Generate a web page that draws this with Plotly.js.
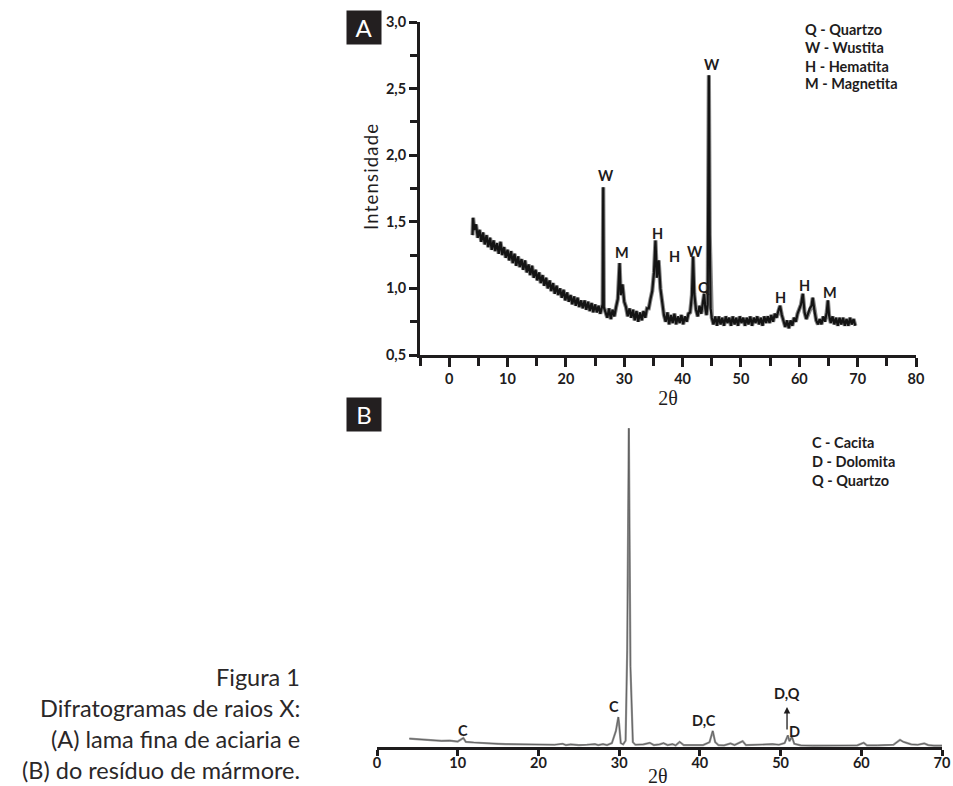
<!DOCTYPE html>
<html>
<head>
<meta charset="utf-8">
<script src="https://cdn.plot.ly/plotly-3.0.1.min.js"></script>
<style>html,body{margin:0;padding:0;background:#fff}#chart{width:953px;height:786px}</style>
</head>
<body>
<div id="chart"></div>
<script>
// ---------- Panel A: lama fina de aciaria ----------
const thetaA = [4.0,4.1,4.3,4.6,4.9,5.2,5.5,5.8,6.1,6.4,6.7,7.0,7.3,7.6,7.9,8.2,8.5,8.8,9.1,9.4,9.7,10.0,10.3,10.6,10.9,11.2,11.5,11.8,12.1,12.4,12.7,13.0,13.3,13.6,13.9,14.2,14.5,14.8,15.1,15.4,15.7,16.0,16.3,16.6,16.9,17.2,17.5,17.8,18.1,18.4,18.7,19.0,19.3,19.6,19.9,20.2,20.5,20.8,21.1,21.4,21.7,22.0,22.3,22.6,22.9,23.2,23.5,23.8,24.1,24.4,24.7,25.0,25.3,25.6,25.9,26.2,26.3,26.4,26.5,26.8,27.1,27.4,27.7,28.0,28.3,28.6,28.9,29.2,29.4,29.7,30.0,30.3,30.6,30.9,31.2,31.5,31.8,32.1,32.4,32.7,33.0,33.3,33.6,33.9,34.2,34.5,34.8,35.1,35.35,35.6,35.9,36.2,36.5,36.8,37.1,37.4,37.7,38.0,38.3,38.6,38.9,39.2,39.5,39.8,40.1,40.4,40.7,41.0,41.3,41.6,41.8,42.0,42.3,42.6,42.9,43.2,43.5,43.7,43.9,44.1,44.3,44.5,44.65,44.8,45.0,45.3,45.6,45.9,46.2,46.5,46.8,47.1,47.4,47.7,48.0,48.3,48.6,48.9,49.2,49.5,49.8,50.1,50.4,50.7,51.0,51.3,51.6,51.9,52.2,52.5,52.8,53.1,53.4,53.7,54.0,54.3,54.6,54.9,55.2,55.5,55.8,56.1,56.4,56.7,57.0,57.3,57.6,57.9,58.2,58.5,58.8,59.1,59.4,59.7,60.0,60.3,60.6,60.9,61.2,61.5,61.8,62.1,62.3,62.6,62.9,63.2,63.5,63.8,64.1,64.4,64.7,64.9,65.1,65.4,65.7,66.0,66.3,66.6,66.9,67.2,67.5,67.8,68.1,68.4,68.7,69.0,69.3,69.6];
const intensA = [1.40,1.53,1.44,1.48,1.38,1.44,1.35,1.42,1.33,1.40,1.31,1.38,1.29,1.36,1.28,1.34,1.26,1.35,1.25,1.31,1.23,1.29,1.21,1.28,1.19,1.26,1.17,1.24,1.16,1.22,1.14,1.21,1.12,1.18,1.10,1.17,1.08,1.14,1.06,1.12,1.04,1.10,1.02,1.08,1.00,1.06,0.98,1.04,0.96,1.02,0.95,1.00,0.93,0.99,0.91,0.97,0.90,0.95,0.88,0.94,0.87,0.93,0.86,0.91,0.85,0.91,0.84,0.90,0.83,0.89,0.82,0.88,0.82,0.87,0.81,0.87,0.88,1.76,0.86,0.82,0.78,0.85,0.77,0.84,0.79,0.86,0.92,1.19,0.95,1.03,0.90,0.86,0.79,0.85,0.78,0.84,0.76,0.83,0.75,0.82,0.76,0.83,0.78,0.85,0.85,0.92,0.98,1.12,1.36,1.08,1.21,1.00,0.88,0.80,0.75,0.82,0.73,0.80,0.74,0.81,0.73,0.79,0.74,0.80,0.73,0.79,0.75,0.81,0.82,0.95,1.24,0.96,0.84,0.79,0.87,0.81,0.90,0.96,0.85,0.80,0.88,2.60,1.40,0.85,0.78,0.73,0.79,0.72,0.79,0.73,0.78,0.72,0.79,0.74,0.78,0.72,0.79,0.73,0.78,0.72,0.79,0.74,0.78,0.72,0.78,0.73,0.79,0.72,0.78,0.74,0.79,0.73,0.78,0.72,0.79,0.74,0.79,0.74,0.80,0.75,0.81,0.78,0.83,0.87,0.80,0.75,0.71,0.76,0.70,0.76,0.72,0.78,0.75,0.81,0.84,0.88,0.96,0.82,0.77,0.81,0.85,0.87,0.93,0.83,0.76,0.73,0.77,0.73,0.79,0.75,0.82,0.91,0.80,0.74,0.79,0.73,0.78,0.72,0.78,0.73,0.78,0.72,0.77,0.72,0.78,0.73,0.77,0.72];
const peakLabelsA = ['W','M','H','H','W','Q','W','H','H','M'];
const peakThetaA  = [26.8,29.7,35.7,38.6,42.2,43.6,45.0,56.8,60.9,65.2];
const peakIntA    = [1.85,1.27,1.41,1.24,1.28,1.01,2.68,0.93,1.02,0.97];
const xTicksA = [0,10,20,30,40,50,60,70,80];
const xMinorA = [-5,5,15,25,35,45,55,65,75];
const yTicksA = [0.5,1.0,1.5,2.0,2.5,3.0];
const yTickTextA = ['0,5','1,0','1,5','2,0','2,5','3,0'];
const yMinorA = [0.75,1.25,1.75,2.25,2.75];
const legendA = ['Q - Quartzo','W - Wustita','H - Hematita','M - Magnetita'];

// ---------- Panel B: resíduo de mármore ----------
const thetaB = [4,5,6,7,8,9,9.5,10,10.7,11,12,13,14,15,16,18,20,22,23,23.4,24,25,26,27,27.4,28,28.5,29.1,29.6,29.9,30.0,30.2,30.5,30.8,31.0,31.2,31.4,31.7,32,33,33.8,34.3,35,35.5,36,36.6,37,37.5,38,39,40,40.4,41.2,41.6,41.9,42.3,43,43.8,44.3,45,45.3,45.7,46.5,47.5,48.2,49,49.8,50.5,50.9,51.1,51.4,51.7,52.5,54,56,58,59.5,60.3,60.7,62,63,64,64.8,65.2,65.7,66.2,67,67.8,68.3,69,70];
const intensB = [2.6,2.4,2.2,2.0,1.9,2.0,1.8,1.7,2.8,1.6,1.4,1.2,1.1,1.0,0.9,0.8,0.7,0.7,1.0,0.6,0.8,0.6,0.7,0.9,0.6,0.9,0.6,1.2,5.0,9.3,7.0,1.2,0.8,2.0,30,99,25,1.5,0.7,0.8,1.3,0.6,0.8,1.2,0.6,0.9,0.5,1.6,0.6,0.6,0.8,0.6,1.5,5.0,1.5,0.6,0.5,1.1,0.6,1.3,1.8,0.6,0.6,0.7,0.8,0.9,0.7,1.2,3.6,1.8,3.2,1.0,0.5,0.4,0.4,0.4,0.5,1.3,0.5,0.5,0.6,0.7,2.2,1.6,1.2,0.8,0.7,1.1,0.6,0.4,0.4];
const peakLabelsB = ['C','C','D,C','D,C','D,Q','D'];
const peakThetaB  = [10.6,29.4,31.1,40.5,50.8,51.7];
const peakIntB    = [5.0,12.7,103.3,8.1,16.5,4.9];
const xTicksB = [0,10,20,30,40,50,60,70];
const legendB = ['C - Cacita','D - Dolomita','Q - Quartzo'];

const yTitleA = 'I\u200An\u200At\u200Ae\u200An\u200As\u200Ai\u200Ad\u200Aa\u200Ad\u200Ae';
const caption = ['Figura 1','Difratogramas de raios X:','(A) lama fina de aciaria e','(B) do resíduo de mármore.'];

// ---------- helpers for page placement ----------
const W = 953, H = 786;
const fx = p => p / W;
const fy = p => 1 - p / H;
const INK = '#1e1c1d';
const FONT = 'Lato, "Open Sans", sans-serif';
const tickFont = {family: FONT, size: 14.5, weight: 'bold', color: INK};

const axisBase = {
  showline: true, linewidth: 3, linecolor: INK,
  ticks: 'outside', ticklen: 9, tickwidth: 3, tickcolor: INK,
  showgrid: false, zeroline: false, tickfont: tickFont, fixedrange: true
};

const traces = [
  {x: thetaA, y: intensA, xaxis: 'x', yaxis: 'y', mode: 'lines',
   line: {color: '#8a8a8a', width: 4.2}, hoverinfo: 'skip', showlegend: false},
  {x: thetaA, y: intensA, xaxis: 'x', yaxis: 'y', mode: 'lines',
   line: {color: '#141414', width: 2.2}, showlegend: false},
  {x: thetaB, y: intensB, xaxis: 'x2', yaxis: 'y2', mode: 'lines',
   line: {color: '#9a9a9a', width: 2.2}, hoverinfo: 'skip', showlegend: false},
  {x: thetaB, y: intensB, xaxis: 'x2', yaxis: 'y2', mode: 'lines',
   line: {color: '#555', width: 0.8}, showlegend: false}
];

const ann = [];
const lblFont = {family: FONT, size: 14.5, weight: 'bold', color: INK};
peakLabelsA.forEach((t, i) => ann.push({xref: 'x', yref: 'y', x: peakThetaA[i], y: peakIntA[i],
  text: t, showarrow: false, font: lblFont}));
peakLabelsB.forEach((t, i) => ann.push({xref: 'x2', yref: 'y2', x: peakThetaB[i], y: peakIntB[i],
  text: t, showarrow: false, font: lblFont}));
// arrow under "D,Q"
ann.push({xref: 'x2', yref: 'y2', x: 50.8, y: 12.4, axref: 'x2', ayref: 'y2', ax: 50.8, ay: 5.0,
  text: '', showarrow: true, arrowhead: 2, arrowsize: 1, arrowwidth: 1.3, arrowcolor: INK});

legendA.forEach((t, i) => ann.push({xref: 'paper', yref: 'paper', x: fx(803), y: fy(30 + 18 * i),
  xanchor: 'left', yanchor: 'middle', text: t, showarrow: false, font: lblFont}));
legendB.forEach((t, i) => ann.push({xref: 'paper', yref: 'paper', x: fx(810), y: fy(442 + 19 * i),
  xanchor: 'left', yanchor: 'middle', text: t, showarrow: false, font: lblFont}));

// panel letters
[['A', 28], ['B', 414]].forEach(([t, cy]) => ann.push({xref: 'paper', yref: 'paper',
  x: fx(364), y: fy(cy), xanchor: 'center', yanchor: 'middle', text: t, showarrow: false,
  width: 32, height: 31, bgcolor: '#231f20', font: {family: FONT, size: 24, color: '#fff'}}));

// y-axis title of panel A
ann.push({xref: 'paper', yref: 'paper', x: fx(371), y: fy(177), xanchor: 'center', yanchor: 'middle',
  textangle: -90, text: yTitleA, showarrow: false, font: {family: FONT, size: 18.5, color: INK}});

// caption
caption.forEach((t, i) => ann.push({xref: 'paper', yref: 'paper', x: fx(302), y: fy(677 + 31 * i),
  xanchor: 'right', yanchor: 'middle', align: 'right', text: t, showarrow: false,
  font: {family: FONT, size: 23.5, color: '#2a2728'}}));

// x-axis title of panel B (placed tight to the tick labels, as in the original)
ann.push({xref: 'paper', yref: 'paper', x: fx(658), y: fy(776), xanchor: 'center', yanchor: 'middle',
  text: '2θ', showarrow: false, font: {family: '"Liberation Serif", serif', size: 20, color: INK}});

const layout = {
  width: W, height: H, margin: {l: 0, r: 0, t: 0, b: 0},
  paper_bgcolor: '#fff', plot_bgcolor: 'rgba(0,0,0,0)', showlegend: false,
  xaxis: Object.assign({}, axisBase, {
    domain: [fx(420), fx(916)], range: [-5, 80], anchor: 'y',
    tickmode: 'array', tickvals: xTicksA, ticktext: xTicksA.map(String),
    minor: {tickmode: 'array', tickvals: xMinorA, ticks: 'outside', ticklen: 8, tickwidth: 3, tickcolor: INK},
    title: {text: '2θ', font: {family: '"Liberation Serif", serif', size: 20, color: INK}, standoff: 0}
  }),
  yaxis: Object.assign({}, axisBase, {
    domain: [fy(355), fy(22)], range: [0.5, 3.0], anchor: 'x',
    tickmode: 'array', tickvals: yTicksA, ticktext: yTickTextA, ticklen: 8,
    minor: {tickmode: 'array', tickvals: yMinorA, ticks: 'outside', ticklen: 7, tickwidth: 3, tickcolor: INK}
  }),
  xaxis2: Object.assign({}, axisBase, {
    domain: [fx(377), fx(942)], range: [0, 70], anchor: 'y2', ticklen: 6, ticklabelstandoff: -5,
    tickmode: 'array', tickvals: xTicksB, ticktext: xTicksB.map(String)
  }),
  yaxis2: {domain: [fy(747), fy(425)], range: [0, 100], visible: false, anchor: 'x2', fixedrange: true},
  annotations: ann
};

Plotly.newPlot('chart', traces, layout, {displayModeBar: false, staticPlot: true});
</script>
</body>
</html>
